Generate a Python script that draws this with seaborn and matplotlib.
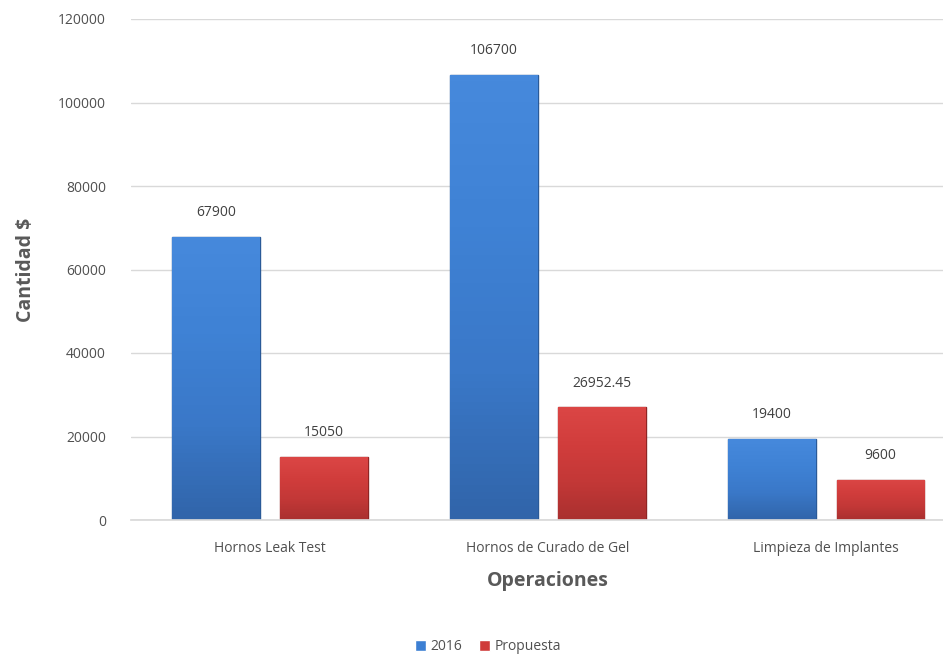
import numpy as np
import pandas as pd
import matplotlib
matplotlib.use("Agg")
import matplotlib.pyplot as plt
import matplotlib.transforms as mtransforms
import seaborn as sns
from matplotlib.colors import LinearSegmentedColormap

operaciones = ["Hornos Leak Test", "Hornos de Curado de Gel", "Limpieza de Implantes"]
serie_2016 = [67900, 106700, 19400]
serie_propuesta = [15050, 26952.45, 9600]
series = ["2016", "Propuesta"]
y_ticks = [0, 20000, 40000, 60000, 80000, 100000, 120000]

df = pd.DataFrame({
    "Operaciones": operaciones * 2,
    "Cantidad": serie_2016 + serie_propuesta,
    "Serie": [series[0]] * 3 + [series[1]] * 3,
})

sns.set_theme(style="white")
plt.rcParams["font.family"] = ["Open Sans", "DejaVu Sans"]

palette = {"2016": "#3c7fd3", "Propuesta": "#cf3b3a"}
# vertical shading: bottom -> top
shades = {
    "2016": ["#3165aa", "#3a78c8", "#3f82d5", "#4689dc"],
    "Propuesta": ["#aa302f", "#c33837", "#d13d3c", "#db4645"],
}
edges = {"2016": "#2a5a98", "Propuesta": "#8f2524"}

fig = plt.figure(figsize=(9.43, 6.56), dpi=100)
ax = fig.add_axes([131 / 943, 1 - 520 / 656, 1 - 131 / 943, (520 - 19) / 656])

sns.barplot(data=df, x="Operaciones", y="Cantidad", hue="Serie",
            palette=palette, width=0.78, gap=0.19, ax=ax,
            legend=True, saturation=1, errorbar=None)

ax.set_ylim(0, 120000)
ax.set_yticks(y_ticks)
ax.set_xlim(-0.5, 2.42)
ax.yaxis.grid(True, color="#d9d9d9", linewidth=1)
ax.set_axisbelow(True)
for s in ["top", "right", "left"]:
    ax.spines[s].set_visible(False)
ax.spines["bottom"].set_color("#d9d9d9")

ax.tick_params(axis="both", length=0, labelsize=10, labelcolor="#505050")
ax.tick_params(axis="x", pad=15)
ax.tick_params(axis="y", pad=18)

ax.set_xlabel("Operaciones", fontsize=14, fontweight="bold", color="#595959")
ax.xaxis.set_label_coords(1.0, -0.102,
                          transform=mtransforms.blended_transform_factory(ax.transData, ax.transAxes))
ax.set_ylabel("Cantidad $", fontsize=14, fontweight="bold", color="#595959", labelpad=16)


def fmt(v):
    return f"{v:.2f}".rstrip("0").rstrip(".")


# shaded bars
for container, name in zip(ax.containers, series):
    cmap = LinearSegmentedColormap.from_list(name, shades[name])
    grad = np.linspace(0, 1, 64).reshape(-1, 1)
    for patch in container:
        x0, y0 = patch.get_x(), patch.get_y()
        w, h = patch.get_width(), patch.get_height()
        patch.set_edgecolor(edges[name])
        patch.set_linewidth(1.0)
        im = ax.imshow(grad, cmap=cmap, aspect="auto", origin="lower",
                       extent=(x0, x0 + w, y0, y0 + h), zorder=patch.get_zorder() + 0.1)
        im.set_clip_path(patch)
    ax.bar_label(container, labels=[fmt(p.get_height()) for p in container],
                 padding=12, fontsize=10, color="#404040")

ax.set_xlim(-0.5, 2.42)
ax.set_ylim(0, 120000)

leg = ax.legend(loc="center", bbox_to_anchor=(488 / 943, 1 - 647 / 656),
                bbox_transform=fig.transFigure, ncol=2, frameon=False,
                fontsize=10, handlelength=0.8, handleheight=0.8,
                handletextpad=0.3, columnspacing=1.2)
for t in leg.get_texts():
    t.set_color("#505050")

fig.savefig("out.png", dpi=100)
